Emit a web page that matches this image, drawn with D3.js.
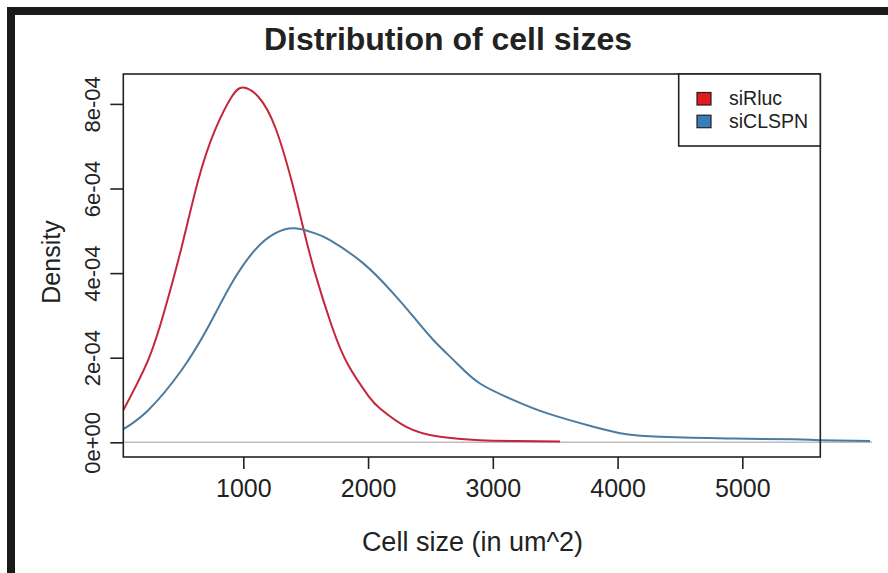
<!DOCTYPE html>
<html><head><meta charset="utf-8">
<script src="https://cdn.jsdelivr.net/npm/d3@7/dist/d3.min.js"></script>
<style>body{margin:0;background:#fff}svg{display:block}text{font-family:"Liberation Sans",Arial,sans-serif;fill:#222}</style>
</head><body>
<svg id="c" width="888" height="573"></svg>
<script>
const title = "Distribution of cell sizes";
const xLabel = "Cell size (in um^2)";
const yLabel = "Density";
const seriesNames = ["siRluc", "siCLSPN"];
const xTicks = [1000, 2000, 3000, 4000, 5000];
const yTicks = [0, 2e-4, 4e-4, 6e-4, 8e-4];
const yTickLabels = ["0e+00", "2e-04", "4e-04", "6e-04", "8e-04"];
const redX = [38, 238, 372, 506, 639, 773, 907, 1000, 1120, 1254, 1388, 1481, 1575, 1709, 1842, 2002, 2096, 2310, 2577, 2897, 3200, 3539];
const redY = [0.76, 1.95, 3.15, 4.62, 6.20, 7.38, 8.17, 8.39, 8.17, 7.46, 6.17, 5.06, 4.00, 2.75, 1.82, 1.10, 0.80, 0.36, 0.13, 0.05, 0.03, 0.02];
const blueX = [38, 238, 506, 719, 907, 1094, 1254, 1414, 1575, 1695, 1962, 2202, 2363, 2523, 2711, 2897, 3164, 3432, 3806, 4073, 4340, 4875, 5409, 5623, 6024];
const blueY = [0.31, 0.76, 1.71, 2.73, 3.76, 4.55, 4.94, 5.06, 4.94, 4.78, 4.23, 3.52, 2.97, 2.42, 1.87, 1.39, 1.00, 0.69, 0.37, 0.19, 0.13, 0.09, 0.07, 0.05, 0.03];
const lineColors = ["#c4263a", "#4a7ba0"];
const fillColors = ["#e41a1c", "#377eb8"];

const svg = d3.select("#c");
const L = 123.3, R = 820.3, T = 74, B = 457;
const x = d3.scaleLinear().domain([38, 5625]).range([L, R]);
const y = d3.scaleLinear().domain([-3.47e-5, 8.707e-4]).range([B, T]);

// frame bars
svg.append("rect").attr("x", 7).attr("y", 7).attr("width", 881).attr("height", 8).attr("fill", "#1a1a1a");
svg.append("rect").attr("x", 7).attr("y", 7).attr("width", 8).attr("height", 566).attr("fill", "#1a1a1a");

// zero line
svg.append("line").attr("x1", L).attr("x2", x(6040)).attr("y1", y(0)).attr("y2", y(0))
  .attr("stroke", "#bdbdbd").attr("stroke-width", 1.5);

const line = d3.line().x(d => x(d[0])).y(d => y(d[1] * 1e-4)).curve(d3.curveNatural);
const red = redX.map((v, i) => [v, redY[i]]);
const blue = blueX.map((v, i) => [v, blueY[i]]);
svg.append("path").attr("d", line(red)).attr("fill", "none").attr("stroke", lineColors[0]).attr("stroke-width", 2);
svg.append("path").attr("d", line(blue)).attr("fill", "none").attr("stroke", lineColors[1]).attr("stroke-width", 2);

// box
svg.append("rect").attr("x", L).attr("y", T).attr("width", R - L).attr("height", B - T)
  .attr("fill", "none").attr("stroke", "#222").attr("stroke-width", 1.6);

// x axis
const xa = svg.append("g").attr("transform", `translate(0,${B})`)
  .call(d3.axisBottom(x).tickValues(xTicks).tickSize(12).tickPadding(10).tickFormat(d3.format("d")));
xa.select(".domain").remove();
xa.selectAll("line").attr("stroke", "#222").attr("stroke-width", 1.6);
xa.selectAll("text").attr("font-size", 25).attr("font-family", "Liberation Sans").attr("fill", "#222");

// y axis
const ya = svg.append("g").attr("transform", `translate(${L},0)`)
  .call(d3.axisLeft(y).tickValues(yTicks).tickSize(13).tickFormat((d, i) => yTickLabels[i]));
ya.select(".domain").remove();
ya.selectAll("line").attr("stroke", "#222").attr("stroke-width", 1.6);
ya.selectAll("text").attr("font-size", 22).attr("font-family", "Liberation Sans").attr("fill", "#222")
  .attr("x", null).attr("dy", null).attr("text-anchor", "middle")
  .attr("transform", "translate(-23,0) rotate(-90)");

// titles
svg.append("text").attr("x", 448).attr("y", 50).attr("text-anchor", "middle")
  .attr("font-size", 32).attr("font-weight", "bold").text(title);
svg.append("text").attr("x", 472.5).attr("y", 551).attr("text-anchor", "middle")
  .attr("font-size", 27).text(xLabel);
svg.append("text").attr("transform", "translate(60,262) rotate(-90)").attr("text-anchor", "middle")
  .attr("font-size", 25).text(yLabel);

// legend
const lg = svg.append("g");
lg.append("rect").attr("x", 678.7).attr("y", T).attr("width", R - 678.7).attr("height", 72)
  .attr("fill", "#fff").attr("stroke", "#222").attr("stroke-width", 1.6);
seriesNames.forEach((n, i) => {
  lg.append("rect").attr("x", 697).attr("y", 92.5 + i * 22.7).attr("width", 14).attr("height", 12.5)
    .attr("fill", fillColors[i]).attr("stroke", "#222").attr("stroke-width", 1.2);
  lg.append("text").attr("x", 729).attr("y", 105 + i * 22.7).attr("font-size", 19.5).text(n);
});
</script>
</body></html>
